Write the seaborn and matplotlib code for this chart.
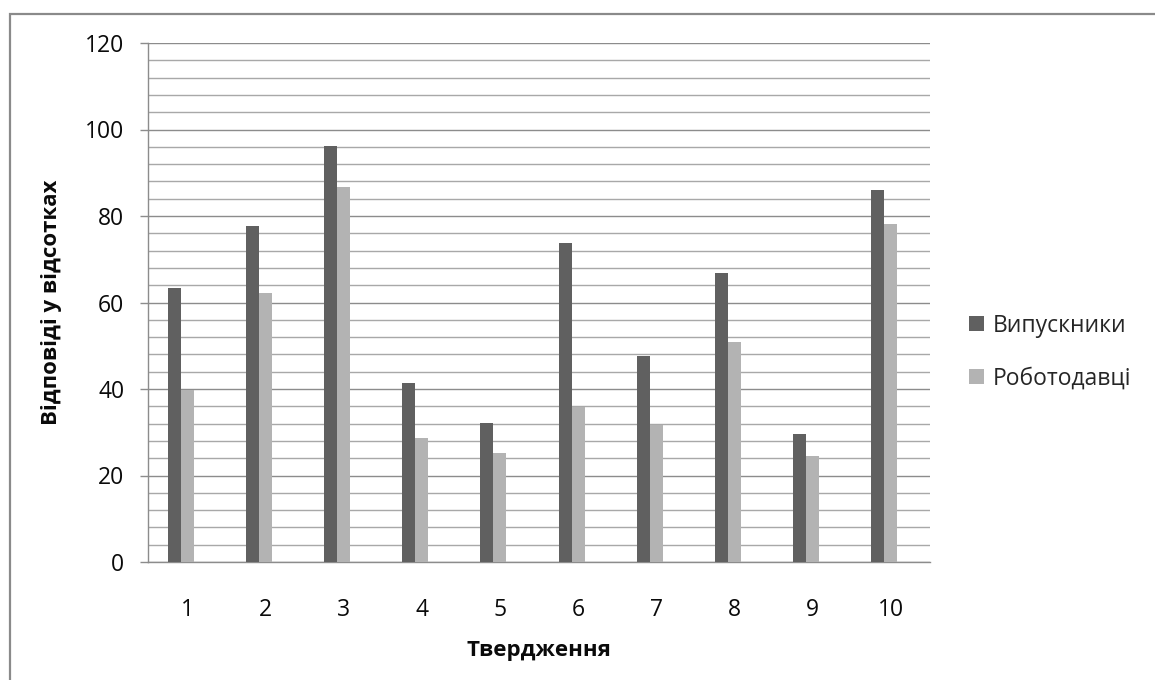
import numpy as np
import pandas as pd
import matplotlib
matplotlib.use("Agg")
import matplotlib.pyplot as plt
import seaborn as sns
from matplotlib.patches import Rectangle
from matplotlib.ticker import MultipleLocator

categories = ["1", "2", "3", "4", "5", "6", "7", "8", "9", "10"]
graduates = [63.3, 77.6, 96.3, 41.3, 32.1, 73.7, 47.6, 66.9, 29.7, 85.9]
employers = [39.8, 62.1, 86.7, 28.6, 25.3, 35.8, 31.7, 50.8, 24.4, 78.2]
series_names = ["Випускники", "Роботодавці"]
y_label = "Відповіді у відсотках"
x_label = "Твердження"

sns.set_theme(style="white")
plt.rcParams["font.family"] = ["Open Sans", "DejaVu Sans"]

df = pd.DataFrame({
    "cat": categories * 2,
    "value": graduates + employers,
    "series": [series_names[0]] * len(categories) + [series_names[1]] * len(categories),
})

W, H = 1155, 680
fig = plt.figure(figsize=(W / 100, H / 100), dpi=100)
ax = fig.add_axes([148 / W, 1 - 562 / H, (930 - 148) / W, (562 - 43) / H])

hue_order = series_names + ["_empty"]
sns.barplot(data=df, x="cat", y="value", hue="series", hue_order=hue_order,
            order=categories,
            palette=["#606060", "#b3b3b3", "#ffffff"], width=0.5,
            saturation=1, linewidth=0, errorbar=None, ax=ax, legend=True, zorder=3)

handles, labels = ax.get_legend_handles_labels()
if ax.get_legend() is not None:
    ax.get_legend().remove()
fig.legend(handles[:2], labels[:2], loc="center left",
           bbox_to_anchor=(948 / W, 1 - 352 / H), frameon=False,
           labelspacing=1.25, handlelength=0.65, handleheight=0.65,
           handletextpad=0.4, prop={"family": ["Open Sans", "DejaVu Sans"], "size": 16.5})

ax.set_ylim(0, 120)
ax.set_xlim(-0.5, 9.5)
ax.yaxis.set_major_locator(MultipleLocator(20))
ax.yaxis.set_minor_locator(MultipleLocator(4))
ax.grid(axis="y", which="major", color="#8c8c8c", linewidth=1.0, zorder=0)
ax.grid(axis="y", which="minor", color="#a8a8a8", linewidth=1.0, zorder=0)
ax.set_axisbelow(True)

for s in ["top", "right"]:
    ax.spines[s].set_visible(False)
ax.spines["left"].set_color("#8c8c8c")
ax.spines["bottom"].set_color("#8c8c8c")
ax.spines["left"].set_linewidth(1.0)
ax.spines["bottom"].set_linewidth(1.0)

ax.tick_params(axis="y", which="major", left=True, length=6, width=1.0,
               color="#8c8c8c", pad=11, labelsize=16.5, labelcolor="#0a0a0a")
ax.tick_params(axis="y", which="minor", left=False)
ax.tick_params(axis="x", bottom=False, pad=20, labelsize=16.5, labelcolor="#0a0a0a")

ax.set_xlabel(x_label, fontsize=16, fontweight="bold", color="#0a0a0a")
ax.set_ylabel(y_label, fontsize=16, fontweight="bold", color="#0a0a0a")
ax.xaxis.set_label_coords(0.5, -(640 - 562) / 519)
ax.yaxis.set_label_coords((62 - 148) / 782, 0.5)

border = Rectangle((9.5 / W, -0.1), 1.2, 1.1 - 14 / H, transform=fig.transFigure,
                   fill=False, edgecolor="#8a8a8a", linewidth=1.6, clip_on=False)
fig.patches.append(border)

fig.savefig("out.png", dpi=100)
